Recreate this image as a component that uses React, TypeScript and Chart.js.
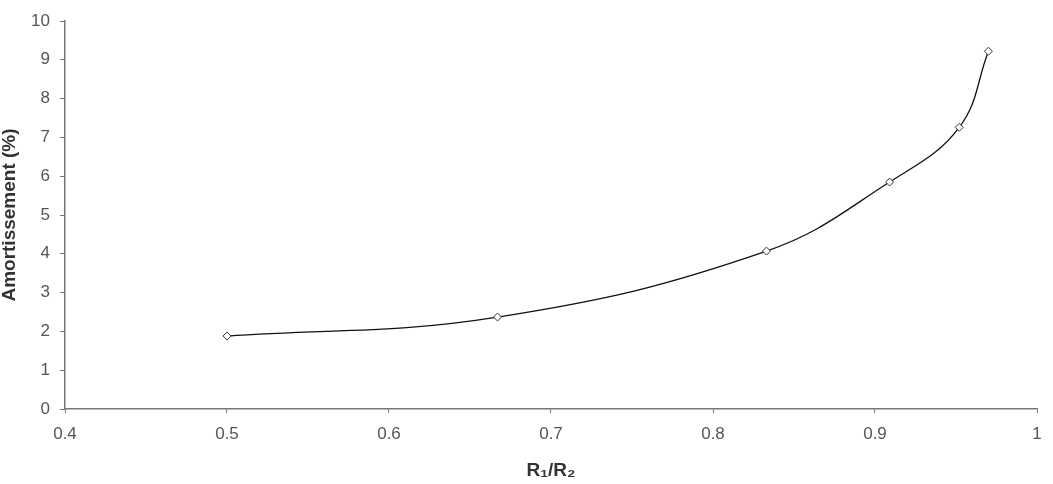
import React, { useEffect, useRef } from "react";
import { Chart, registerables } from "chart.js";

Chart.register(...registerables);

const ratioValues = [0.5, 0.667, 0.833, 0.909, 0.952, 0.97];
const dampingValues = [1.88, 2.37, 4.07, 5.85, 7.26, 9.22];
const xTitle = "R\u2081/R\u2082";
const yTitle = "Amortissement (%)";

export default function App() {
  const ref = useRef<HTMLCanvasElement | null>(null);
  useEffect(() => {
    if (!ref.current) return;
    const font = { family: "'Liberation Sans', Arial, sans-serif", size: 17 };
    const titleFont = { family: "'Liberation Sans', Arial, sans-serif", size: 19, weight: "bold" as const, lineHeight: 1.1 };
    const chart = new Chart(ref.current, {
      type: "line",
      data: {
        datasets: [
          {
            data: ratioValues.map((x, i) => ({ x, y: dampingValues[i] })),
            borderColor: "#111",
            borderWidth: 1.3,
            tension: 0.4,
            pointStyle: "rectRot",
            pointRadius: 4,
            pointBackgroundColor: "#fff",
            pointBorderColor: "#333",
            pointBorderWidth: 1,
            fill: false,
          },
        ],
      },
      options: {
        animation: false,
        responsive: false,
        maintainAspectRatio: false,
        layout: { padding: { top: 21, right: 16, left: 0, bottom: 0 } },
        plugins: { legend: { display: false }, tooltip: { enabled: false } },
        scales: {
          x: {
            type: "linear",
            min: 0.4,
            max: 1,
            ticks: {
              stepSize: 0.1,
              color: "#555",
              font,
              padding: 11,
              maxRotation: 0,
              callback: (v: any) => (Math.round(Number(v) * 10) / 10).toString(),
            },
            grid: { drawOnChartArea: false, drawTicks: true, tickLength: 4, color: "#777" },
            border: { color: "#777", width: 1.5 },
            title: {
              display: true,
              text: xTitle,
              color: "#333",
              font: titleFont,
              padding: { top: 8, bottom: 3 },
            },
            afterFit: (s: any) => {
              s.height = 484 - 409;
            },
          },
          y: {
            min: 0,
            max: 10,
            ticks: { stepSize: 1, color: "#555", font, padding: 10 },
            grid: { drawOnChartArea: false, drawTicks: true, tickLength: 5, color: "#777" },
            border: { color: "#777", width: 1.5 },
            title: {
              display: true,
              text: yTitle,
              color: "#333",
              font: titleFont,
              padding: { top: -1, bottom: 2 },
            },
            afterFit: (s: any) => {
              s.width = 65;
            },
          },
        },
      },
    });
    return () => chart.destroy();
  }, []);
  return (
    <div style={{ position: "fixed", left: 0, top: 0, width: 1053, height: 484, background: "#fff" }}>
      <canvas ref={ref} width={1053} height={484} style={{ width: 1053, height: 484 }} />
    </div>
  );
}
